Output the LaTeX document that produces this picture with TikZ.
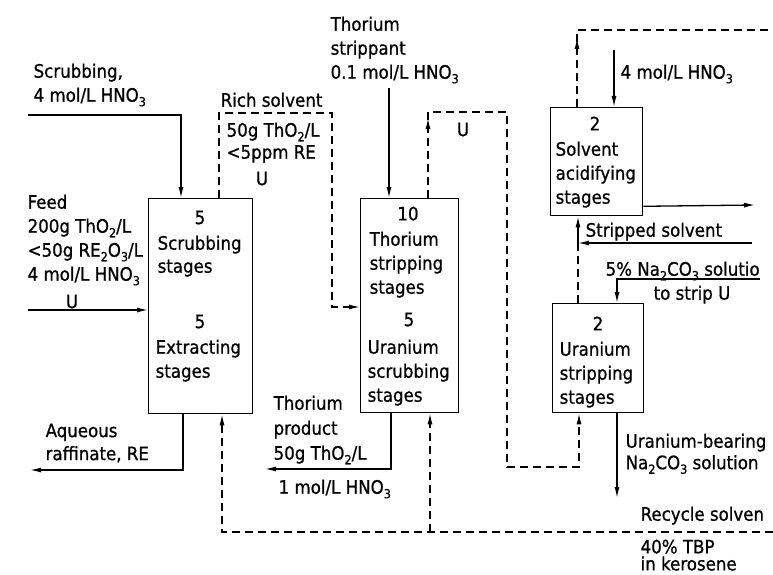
\documentclass[tikz,border=0pt]{standalone}
\usepackage{fontspec}
\setmainfont{DejaVu Sans Condensed}[FakeBold=0.8]
\usetikzlibrary{arrows.meta,decorations.markings}
\newcommand\lsub[1]{\raisebox{-0.45ex}{\fontsize{12.5}{12.5}\selectfont #1}}
\begin{document}
\begin{tikzpicture}[x=1pt,y=-1pt,line width=1.3pt,
  >={Latex[length=11pt,width=5pt]},
  flow/.style={->},
  dflow/.style={->,dash pattern=on 8pt off 5pt},
  dline/.style={dash pattern=on 8pt off 5pt},
  box/.style={draw,inner sep=0pt,anchor=north west},
  txt/.style={inner sep=0pt,anchor=north west,align=left,font=\fontsize{18.5}{24}\selectfont},
  num/.style={txt,anchor=north,align=center},
  midtip/.style={postaction=decorate,decoration={markings,mark=at position #1 with {\arrow{Latex[length=11pt,width=5pt]}}}}
]
\useasboundingbox (0,0) rectangle (773,575);

% boxes
\node[box,minimum width=104pt,minimum height=215pt] (b1) at (148,198) {};
\node[box,minimum width=98pt,minimum height=214pt] (b2) at (360,198) {};
\node[box,minimum width=92pt,minimum height=108pt] (b3) at (550,107) {};
\node[box,minimum width=91pt,minimum height=109pt] (b4) at (552,303) {};

% box texts
\node[num] (b1n1) at (200,210) {5};
\node[txt,font=\fontsize{18.5}{23}\selectfont] (b1t1) at (157,235) {Scrubbing\\stages};
\node[num] (b1n2) at (200,314) {5};
\node[txt] (b1t2) at (155,339) {Extracting\\stages};

\node[num] (b2n1) at (408,206) {10};
\node[txt] (b2t1) at (369,231) {Thorium\\stripping\\stages};
\node[num] (b2n2) at (409,312) {5};
\node[txt] (b2t2) at (367,339) {Uranium\\scrubbing\\stages};

\node[num] (b3n) at (595,116) {2};
\node[txt] (b3t) at (555,141) {Solvent\\acidifying\\stages};

\node[num] (b4n) at (598,316) {2};
\node[txt] (b4t) at (559,341) {Uranium\\stripping\\stages};

% outside labels
\node[txt] (scrubLbl) at (33,63) {Scrubbing,\\4 mol/L HNO\lsub{3}};
\node[txt] (feedLbl) at (27,194) {Feed\\200g ThO\lsub{2}/L\\<50g RE\lsub{2}O\lsub{3}/L\\4 mol/L HNO\lsub{3}};
\node[num] (feedU) at (72,294) {U};
\node[txt] (richLbl) at (220,92) {Rich solvent};
\node[txt,font=\fontsize{18.5}{22}\selectfont] (richDat) at (226,122) {50g ThO\lsub{2}/L\\<5ppm RE};
\node[num] (richU) at (262,171) {U};
\node[txt] (thStrip) at (330,16) {Thorium\\strippant\\0.1 mol/L HNO\lsub{3}};
\node[num] (uLbl) at (463,122) {U};
\node[txt] (acidLbl) at (620,64) {4 mol/L HNO\lsub{3}};
\node[txt] (strLbl) at (585,222) {Stripped solvent};
\node[txt] (naLbl) at (605,261) {5\% Na\lsub{2}CO\lsub{3} solutio};
\node[txt] (toStrip) at (653,285) {to strip U};
\node[txt,font=\fontsize{18.5}{23}\selectfont] (aqLbl) at (45,423) {Aqueous\\raffinate, RE};
\node[txt,font=\fontsize{18.5}{25}\selectfont] (thProd) at (273,395) {Thorium\\product\\50g ThO\lsub{2}/L};
\node[txt] (hnoLbl) at (278,479) {1 mol/L HNO\lsub{3}};
\node[txt,font=\fontsize{18.5}{21.5}\selectfont] (ubLbl) at (625,433) {Uranium-bearing\\Na\lsub{2}CO\lsub{3} solution};
\node[txt] (recLbl) at (640,506) {Recycle solven};
\node[txt,font=\fontsize{18.5}{17}\selectfont] (tbpLbl) at (640,539) {40\% TBP\\in kerosene};

% free ends and bends
\coordinate (scrubIn) at (28,115);
\coordinate (feedIn) at (28,310);
\coordinate (rsA) at (219,113);
\coordinate (rsB) at (332,113);
\coordinate (rsC) at (332,307);
\coordinate (thIn) at (389,88);
\coordinate (uA) at (428,112);
\coordinate (uB) at (507,112);
\coordinate (uC) at (507,467);
\coordinate (uD) at (579,467);
\coordinate (topA) at (577,30);
\coordinate (topEnd) at (773,30);
\coordinate (acidIn) at (614,50);
\coordinate (b3Out) at (755,205);
\coordinate (ssIn) at (752,243);
\coordinate (ssJ) at (578,243);
\coordinate (naIn) at (760,279);
\coordinate (ubOut) at (617,498);
\coordinate (rcIn) at (773,532);
\coordinate (rcJ) at (430,532);
\coordinate (aqOut) at (30,470);
\coordinate (thOut) at (265,469);

% connectors
\draw[flow] (scrubIn) -| ([xshift=33pt]b1.north west);
\draw[flow] (feedIn) -- (feedIn -| b1.west);
\draw[dflow] ([xshift=71pt]b1.north west) -- (rsA) -- (rsB) -- (rsC) -- (rsC -| b2.west);
\draw[flow] (thIn) -- (thIn |- b2.north);
\draw[dflow,midtip=80pt] ([xshift=68pt]b2.north west) -- (uA) -- (uB) -- (uC) -- (uD) -- (uD |- b4.south);
\draw[dline,midtip=69pt] ([xshift=27pt]b3.north west) -- (topA) -- (topEnd);
\draw[flow] (acidIn) -- (acidIn |- b3.north);
\draw[flow] ([yshift=10pt]b3.south east) -- (b3Out);
\draw[flow] (ssIn) -- (ssJ);
\draw[dline] ([xshift=26pt]b4.north west) -- (ssJ);
\draw[flow] (ssJ) -- (ssJ |- b3.south);
\draw[flow] (naIn) -| ([xshift=65pt]b4.north west);
\draw[flow] ([xshift=65pt]b4.south west) -- (ubOut);
\draw[dflow] (rcIn) -| ([xshift=74pt]b1.south west);
\draw[dflow] (rcJ) -- ([xshift=70pt]b2.south west);
\draw[flow] ([xshift=35pt]b1.south west) |- (aqOut);
\draw[flow] ([xshift=31pt]b2.south west) |- (thOut);
\end{tikzpicture}
\end{document}
